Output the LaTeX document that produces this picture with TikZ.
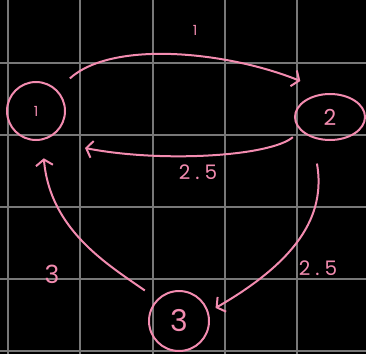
\documentclass[tikz,border=0pt]{standalone}
\usepackage{fontspec}
\setmainfont{Poppins}
\usetikzlibrary{arrows.meta,shapes.geometric}
\definecolor{chalkpink}{RGB}{243,140,176}
\definecolor{gridgray}{RGB}{120,120,120}

\begin{document}
\begin{tikzpicture}[x=1pt,y=1pt,line width=2pt,
  state/.style={draw=chalkpink,circle,inner sep=0pt,text=chalkpink},
  wire/.style={draw=chalkpink,-{Straight Barb[length=6pt,width=17pt]}},
  lbl/.style={text=chalkpink,inner sep=0pt}]
  % 背景与网格
  \fill[black] (0,0) rectangle (366,354);
  \useasboundingbox (0,0) rectangle (366,354);
  \draw[gridgray,line width=2.2pt] (8,0) -- (8,354) (80,0) -- (80,354) (153,0) -- (153,354)
    (225,0) -- (225,354) (297,0) -- (297,354);
  \draw[gridgray,line width=2.2pt] (0,3) -- (366,3) (0,75) -- (366,75) (0,147) -- (366,147)
    (0,219) -- (366,219) (0,291) -- (366,291);

  % 状态
  \node[state,minimum size=58pt,font=\fontsize{14}{15}\selectfont] (n1) at (36,243) {1};
  \node[state,ellipse,minimum width=70pt,minimum height=46pt,font=\fontsize{22}{24}\selectfont] (n2) at (330,237) {2};
  \node[state,minimum size=60pt,font=\fontsize{30}{32}\selectfont] (n3) at (179,33) {3};

  % 转移边
  \draw[wire,shorten <=17pt,shorten >=32pt] (n1.45) .. controls +(42:75) and +(158:110) .. (n2.north);
  \draw[wire,shorten <=10pt,shorten >=42pt] (n2.205) .. controls +(220:40) and +(-11:120) .. (n1.-75);
  \draw[wire,shorten <=26pt,shorten >=8pt] (n2.-130) .. controls +(-80:80) and +(30:100) .. (n3.17);
  \draw[wire,shorten <=15pt,shorten >=18pt] (n3.135) .. controls +(145:60) and +(-85:90) .. (n1.-78);

  % 权重
  \node[lbl,font=\fontsize{14}{15}\selectfont] (w12) at (195,324) {1};
  \node[lbl,font=\fontsize{20}{22}\selectfont] (w21) at (198,182) {2\kern5pt.\kern5pt5};
  \node[lbl,font=\fontsize{20}{22}\selectfont] (w23) at (318,86) {2\kern5pt.\kern5pt5};
  \node[lbl,font=\fontsize{25}{26}\selectfont] (w31) at (52,80) {3};
\end{tikzpicture}
\end{document}
